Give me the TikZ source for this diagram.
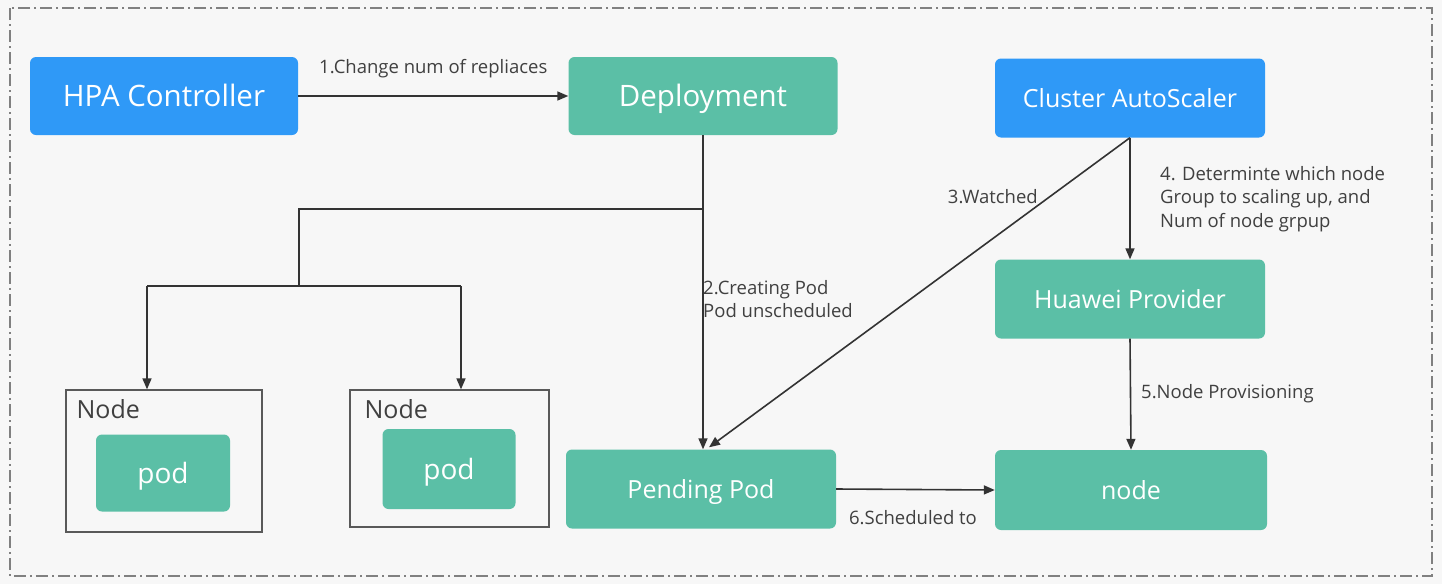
\documentclass[tikz,border=0pt]{standalone}
\usepackage{fontspec}
\setmainfont{Open Sans}
\usetikzlibrary{arrows.meta,calc}
\definecolor{bluebox}{HTML}{2F99F7}
\definecolor{greenbox}{HTML}{5BBFA6}
\definecolor{bg}{HTML}{F7F7F7}
\definecolor{lbl}{HTML}{404040}
\begin{document}
\begin{tikzpicture}[x=1pt,y=-1pt,
 box/.style={rounded corners=6pt, text=white, inner sep=0pt, text height=18pt, text depth=0pt, minimum width=270pt, minimum height=79pt, font=\fontsize{25}{28}\selectfont},
 bluebx/.style={box, fill=bluebox},
 greenbx/.style={box, fill=greenbox},
 bigtxt/.style={font=\fontsize{29.5}{32}\selectfont, text height=21pt},
 podtxt/.style={font=\fontsize{28}{30}\selectfont, text height=20pt},
 conn/.style={draw=black!80, line width=1.6pt},
 arr/.style={conn, -{Triangle[length=11pt,width=9pt]}},
 lab/.style={text=lbl, font=\fontsize{18.5}{23.5}\selectfont, inner sep=0pt, align=left},
 nodebox/.style={draw=black!65, line width=1.3pt, fill=bg, inner sep=0pt},
 nodelab/.style={text=black!75, font=\fontsize{25}{28}\selectfont, inner sep=0pt, anchor=west},
]
\useasboundingbox (0,0) rectangle (1442,584);
\fill[bg] (0,0) rectangle (1442,584);
\draw[black!50, line width=1.2pt, dash pattern=on 12pt off 4pt on 2pt off 4pt] (10,8) rectangle (1432,576);

\node[bluebx, bigtxt, minimum width=268pt, minimum height=78pt] (hpa) at (164,96) {HPA Controller};
\node[greenbx, bigtxt, minimum width=269pt, minimum height=78pt] (dep) at (703,96) {Deployment};
\node[bluebx] (cas) at (1130,98) {Cluster AutoScaler};
\node[greenbx] (hp) at (1130,299) {Huawei Provider};
\node[greenbx] (pp) at (701,489) {Pending Pod};
\node[greenbx, minimum width=272pt, minimum height=80pt] (nd) at (1131,490) {node};

\node[nodebox, minimum width=196pt, minimum height=142pt] (n1) at (164,461) {};
\node[nodelab] (n1l) at ($(n1.north west)+(11,20)$) {Node};
\node[greenbx, podtxt, minimum width=134pt, minimum height=77pt] (p1) at (163,473) {pod};
\node[nodebox, minimum width=199pt, minimum height=137pt] (n2) at (449.5,458.5) {};
\node[nodelab] (n2l) at ($(n2.north west)+(15,20)$) {Node};
\node[greenbx, podtxt, minimum width=133pt, minimum height=80pt] (p2) at (449,469) {pod};

\draw[arr] (hpa.east) -- (dep.west) node[lab, midway, above=17pt] (l1) {1.Change num of repliaces};

\coordinate (j1) at (703,209);
\coordinate (j2) at (299,209);
\coordinate (j3) at (299,286);
\coordinate (a1) at (147,286);
\coordinate (a2) at (461,286);
\draw[arr] (dep.south) -- (dep.south |- pp.north);
\draw[conn] (j1) -- (j2) -- (j3);
\draw[conn] (a1) -- (a2);
\draw[arr] (a1) -- (a1 |- n1.north);
\draw[arr] (a2) -- (a2 |- n2.north);
\node[lab, anchor=north west] (l2) at (703,280) {2.Creating Pod\\Pod unscheduled};

\coordinate (wend) at ($(pp.north)+(8,-2)$);
\draw[arr] (cas.south) -- (wend);
\node[lab, anchor=east] (l3) at (1038,197) {3.Watched};

\draw[arr] (cas.south) -- (hp.north);
\node[lab, anchor=west] (l4) at (1160,199) {4. Determinte which node\\Group to scaling up, and\\Num of node grpup};

\draw[arr] (hp.south) -- (nd.north);
\node[lab, anchor=west] (l5) at (1141,394) {5.Node Provisioning};

\draw[arr] (pp.east) -- (nd.west);
\node[lab] (l6) at (913,518) {6.Scheduled to};
\end{tikzpicture}
\end{document}
